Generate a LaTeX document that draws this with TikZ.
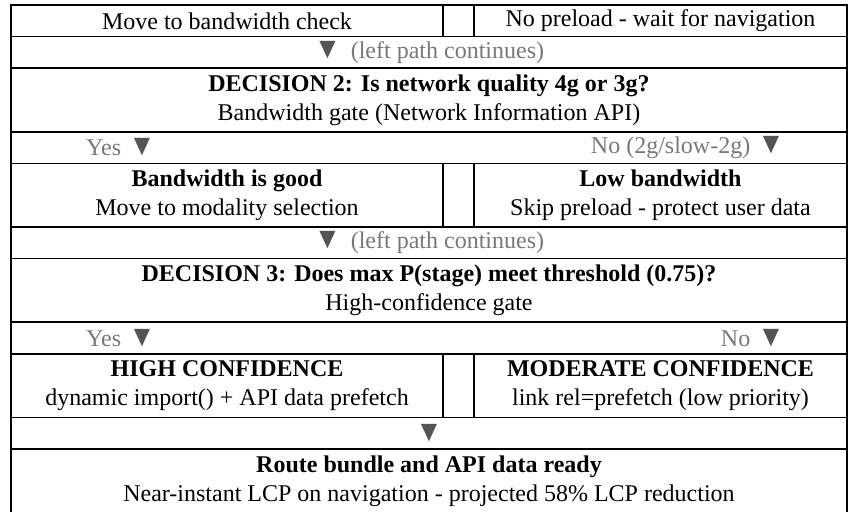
\documentclass[tikz,border=0pt]{standalone}
\usepackage{fontspec}
\setmainfont{Liberation Serif}
\usetikzlibrary{positioning}
\definecolor{mgray}{gray}{0.47}
\definecolor{mtri}{gray}{0.33}
\newcommand{\dtri}{{\color{mtri}\scalebox{1.15}[1.25]{▼}}}
\tikzset{
  cell/.style = {draw, line width=1.6pt, inner sep=0, outer sep=0, anchor=north west,
    align=center, font=\fontsize{24}{29}\selectfont},
  full/.style = {cell, minimum width=836pt},
  lcell/.style = {cell, minimum width=432pt},
  gcell/.style = {cell, minimum width=31pt},
  rcell/.style = {cell, minimum width=373pt},
  low/.style = {minimum height=31.6pt},
  high/.style = {minimum height=63.6pt},
  note/.style = {text=mgray, inner sep=0, font=\fontsize{24}{29}\selectfont}
}

\begin{document}
\begin{tikzpicture}[x=1pt, y=-1pt]
  \useasboundingbox (0,0) rectangle (850,511);

  % bandwidth check
  \node [lcell, low] (move) at (11,5) {Move to bandwidth check};
  \node [gcell, low, right=0pt of move] (gap1) {};
  \node [rcell, low, right=0pt of gap1] (nopre) {No preload - wait for navigation};
  \node [full, low, text=mgray] (cont1) at (11,36.6) {\dtri\hspace{0.4em}(left path continues)};

  \node [full, high] (dec2) at (11,68.2)
    {\textbf{DECISION 2: Is network quality 4g or 3g?}\\Bandwidth gate (Network Information API)};
  \node [full, low] (ans2) at (11,131.8) {};
  \node [note, anchor=west] (yes2) at ([xshift=75pt]ans2.west) {Yes\hspace{0.3em}\dtri};
  \node [note, anchor=east] (no2) at ([xshift=-62pt]ans2.east) {No (2g/slow-2g)\hspace{0.3em}\dtri};

  \node [lcell, high] (good) at (11,163.4) {\textbf{Bandwidth is good}\\Move to modality selection};
  \node [gcell, high, right=0pt of good] (gap2) {};
  \node [rcell, high, right=0pt of gap2] (lowbw) {\textbf{Low bandwidth}\\Skip preload - protect user data};
  \node [full, low, text=mgray] (cont2) at (11,227) {\dtri\hspace{0.4em}(left path continues)};

  % confidence gate
  \node [full, high] (dec3) at (11,258.6)
    {\textbf{DECISION 3: Does max P(stage) meet threshold (0.75)?}\\High-confidence gate};
  \node [full, low] (ans3) at (11,322.2) {};
  \node [note, anchor=west] (yes3) at ([xshift=75pt]ans3.west) {Yes\hspace{0.3em}\dtri};
  \node [note, anchor=east] (no3) at ([xshift=-62pt]ans3.east) {No\hspace{0.3em}\dtri};

  \node [lcell, high] (highc) at (11,353.8) {\textbf{HIGH CONFIDENCE}\\dynamic import() + API data prefetch};
  \node [gcell, high, right=0pt of highc] (gap3) {};
  \node [rcell, high, right=0pt of gap3] (modc) {\textbf{MODERATE CONFIDENCE}\\link rel=prefetch (low priority)};
  \node [full, low] (down) at (11,417.4) {\dtri};

  \node [full, high] (ready) at (11,449)
    {\textbf{Route bundle and API data ready}\\Near-instant LCP on navigation - projected 58\% LCP reduction};
\end{tikzpicture}
\end{document}
